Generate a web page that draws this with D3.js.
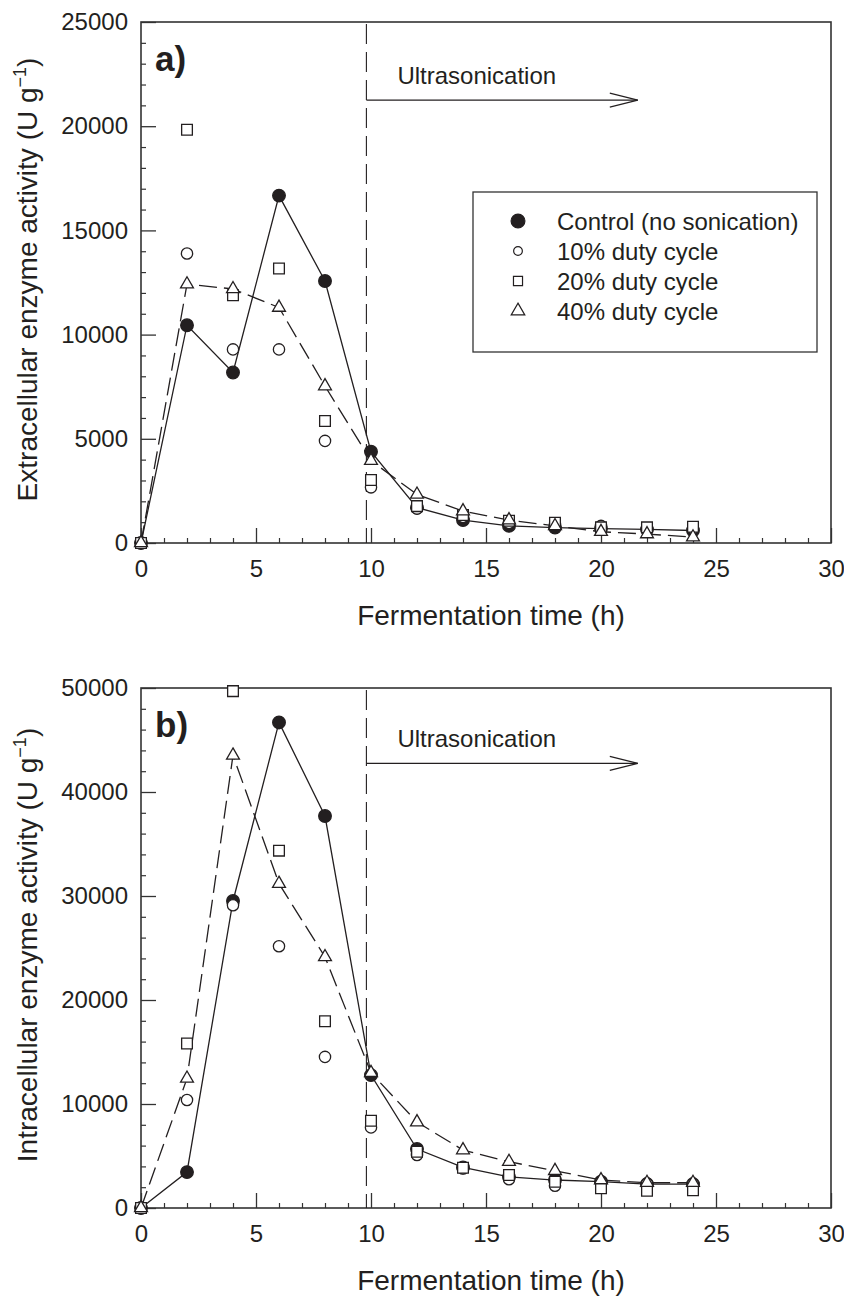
<!DOCTYPE html>
<html>
<head>
<meta charset="utf-8">
<script src="https://cdn.jsdelivr.net/npm/d3@7"></script>
<style>
  html, body { margin: 0; padding: 0; background: #fff; }
  svg { display: block; }
  text { font-family: "Liberation Sans", Arial, Helvetica, sans-serif; fill: #231f20; }
</style>
</head>
<body>
<svg id="chart" width="844" height="1297"></svg>
<script>
// Sampling times (h)
const hours = [0, 2, 4, 6, 8, 10, 12, 14, 16, 18, 20, 22, 24];

// Extracellular enzyme activity (U g-1)
const extControl = [0, 10450, 8180, 16670, 12570, 4380, 1700, 1100, 820, 740, 690, 650, 600];
const extDuty10  = [0, 13890, 9290, 9290, 4900, 2670, 1650, 1250, 960, 900, 820, 700, 700];
const extDuty20  = [0, 19830, 11890, 13170, 5850, 3020, 1770, 1340, 1070, 970, 750, 750, 780];
const extDuty40  = [0, 12420, 12190, 11300, 7530, 3950, 2330, 1530, 1100, 820, 540, 430, 280];

// Intracellular enzyme activity (U g-1)
const intControl = [0, 3450, 29520, 46690, 37690, 12780, 5670, 3900, 3000, 2690, 2530, 2300, 2300];
const intDuty10  = [0, 10380, 29110, 25170, 14530, 7750, 5090, 3800, 2760, 2140, 2500, 2350, 2300];
const intDuty20  = [0, 15820, 49700, 34360, 17960, 8390, 5410, 3870, 3170, 2530, 1890, 1660, 1700];
const intDuty40  = [0, 12460, 43520, 31190, 24140, 13000, 8260, 5570, 4450, 3580, 2690, 2430, 2430];

const seriesNames = ["Control (no sonication)", "10% duty cycle", "20% duty cycle", "40% duty cycle"];

// Axis ticks
const xTicks = [0, 5, 10, 15, 20, 25, 30];
const yTicksA = [0, 5000, 10000, 15000, 20000, 25000];
const yTicksB = [0, 10000, 20000, 30000, 40000, 50000];

// Ultrasonication annotation: start time, arrow end time, arrow level per panel
const sonicStart = 9.8;
const sonicArrowEnd = 21.6;
const sonicLevelA = 21250;
const sonicLevelB = 42750;

const svg = d3.select("#chart");
const ink = "#231f20";
const frameInk = "#333";

const styles = [
  { symbol: d3.symbolCircle,   size: 125, fill: ink,    line: "solid" },
  { symbol: d3.symbolCircle,   size: 100, fill: "#fff", line: null },
  { symbol: d3.symbolSquare,   size: 115, fill: "#fff", line: null },
  { symbol: d3.symbolTriangle, size: 72,  fill: "#fff", line: "dashed" }
];

const left = 141, right = 831;

function drawPanel(cfg) {
  const g = svg.append("g");
  const x = d3.scaleLinear().domain([0, 30]).range([left, right]);
  const y = d3.scaleLinear().domain([0, cfg.yMax]).range([cfg.bottom, cfg.top]);

  // Minor ticks
  const xMinor = d3.range(0, 31, 1).filter(v => v % 5 !== 0);
  g.append("g").attr("transform", `translate(0,${cfg.bottom})`)
    .call(d3.axisBottom(x).tickValues(xMinor).tickSizeInner(-5).tickSizeOuter(0).tickFormat(""))
    .call(s => s.select(".domain").remove())
    .call(s => s.selectAll("line").attr("stroke", frameInk).attr("stroke-width", 1.2));
  const yMinor = d3.range(0, cfg.yMax + 1, cfg.yMinorStep).filter(v => !cfg.yTicks.includes(v));
  g.append("g").attr("transform", `translate(${left},0)`)
    .call(d3.axisLeft(y).tickValues(yMinor).tickSizeInner(-5).tickSizeOuter(0).tickFormat(""))
    .call(s => s.select(".domain").remove())
    .call(s => s.selectAll("line").attr("stroke", frameInk).attr("stroke-width", 1.2));

  // Major ticks with labels
  g.append("g").attr("transform", `translate(0,${cfg.bottom})`)
    .call(d3.axisBottom(x).tickValues(xTicks).tickSizeInner(-15).tickSizeOuter(0).tickPadding(17).tickFormat(d3.format("d")))
    .call(s => s.select(".domain").remove())
    .call(s => s.selectAll("line").attr("stroke", frameInk).attr("stroke-width", 1.3))
    .call(s => s.selectAll("text").attr("font-size", 24).attr("fill", ink)
      .attr("font-family", "'Liberation Sans', Arial, sans-serif"));
  g.append("g").attr("transform", `translate(${left},0)`)
    .call(d3.axisLeft(y).tickValues(cfg.yTicks).tickSizeInner(-15).tickSizeOuter(0).tickPadding(13).tickFormat(d3.format("d")))
    .call(s => s.select(".domain").remove())
    .call(s => s.selectAll("line").attr("stroke", frameInk).attr("stroke-width", 1.3))
    .call(s => s.selectAll("text").attr("font-size", 24).attr("fill", ink)
      .attr("font-family", "'Liberation Sans', Arial, sans-serif"));

  // Frame
  g.append("rect")
    .attr("x", left).attr("y", cfg.top)
    .attr("width", right - left).attr("height", cfg.bottom - cfg.top)
    .attr("fill", "none").attr("stroke", frameInk).attr("stroke-width", 1.6);

  // Ultrasonication start marker
  g.append("line")
    .attr("x1", x(sonicStart)).attr("x2", x(sonicStart))
    .attr("y1", cfg.top + 2).attr("y2", cfg.bottom)
    .attr("stroke", ink).attr("stroke-width", 1.1).attr("stroke-dasharray", "20,8");

  const ay = y(cfg.sonicLevel);
  g.append("line")
    .attr("x1", x(sonicStart)).attr("x2", x(sonicArrowEnd))
    .attr("y1", ay).attr("y2", ay)
    .attr("stroke", ink).attr("stroke-width", 1.1);
  const tipX = x(sonicArrowEnd);
  g.append("path")
    .attr("d", `M${tipX - 28},${ay - 7}L${tipX},${ay}L${tipX - 28},${ay + 7}`)
    .attr("fill", "none").attr("stroke", ink).attr("stroke-width", 1.1);
  g.append("text")
    .attr("x", x(sonicStart) + 31).attr("y", ay - 16)
    .attr("font-size", 24).text("Ultrasonication");

  // Panel letter
  g.append("text")
    .attr("x", 155).attr("y", cfg.top + 49)
    .attr("font-size", 35).attr("font-weight", "bold").text(cfg.letter);

  // Lines
  const lineGen = d3.line().x((d, i) => x(hours[i])).y(d => y(d));
  cfg.series.forEach((vals, k) => {
    const st = styles[k];
    if (!st.line) return;
    g.append("path")
      .attr("d", lineGen(vals))
      .attr("fill", "none").attr("stroke", ink).attr("stroke-width", 1.3)
      .attr("stroke-dasharray", st.line === "dashed" ? "18,7" : null);
  });

  // Markers
  cfg.series.forEach((vals, k) => {
    const st = styles[k];
    const sym = d3.symbol().type(st.symbol).size(st.size);
    g.append("g").selectAll("path").data(vals).join("path")
      .attr("transform", (d, i) => `translate(${x(hours[i])},${y(d)})`)
      .attr("d", sym)
      .attr("fill", st.fill).attr("stroke", ink).attr("stroke-width", 1.3);
  });

  // Axis titles
  g.append("text")
    .attr("x", (left + right) / 2 + 5).attr("y", cfg.bottom + 82)
    .attr("text-anchor", "middle").attr("font-size", 28)
    .text("Fermentation time (h)");

  const yt = g.append("text")
    .attr("transform", `translate(37,${(cfg.top + cfg.bottom) / 2 - 3}) rotate(-90)`)
    .attr("text-anchor", "middle").attr("font-size", 28);
  yt.append("tspan").text(cfg.yTitle + " (U g");
  yt.append("tspan").attr("font-size", 18).attr("dy", -11).text("\u22121");
  yt.append("tspan").attr("dy", 11).text(")");

  return { x, y };
}

drawPanel({
  top: 22, bottom: 543, yMax: 25000, yTicks: yTicksA, yMinorStep: 1000,
  letter: "a)", sonicLevel: sonicLevelA,
  yTitle: "Extracellular enzyme activity",
  series: [extControl, extDuty10, extDuty20, extDuty40]
});

drawPanel({
  top: 688, bottom: 1208, yMax: 50000, yTicks: yTicksB, yMinorStep: 2000,
  letter: "b)", sonicLevel: sonicLevelB,
  yTitle: "Intracellular enzyme activity",
  series: [intControl, intDuty10, intDuty20, intDuty40]
});

// Legend (panel a)
const legendSizes = [150, 60, 82, 80];
const leg = svg.append("g");
leg.append("rect")
  .attr("x", 473).attr("y", 192).attr("width", 344).attr("height", 160)
  .attr("fill", "#fff").attr("stroke", frameInk).attr("stroke-width", 1.3);
seriesNames.forEach((name, k) => {
  const cy = 221 + k * 30;
  const st = styles[k];
  leg.append("path")
    .attr("transform", `translate(518,${cy})`)
    .attr("d", d3.symbol().type(st.symbol).size(legendSizes[k]))
    .attr("fill", st.fill).attr("stroke", ink).attr("stroke-width", 1.2);
  leg.append("text")
    .attr("x", 557).attr("y", cy + 8.5)
    .attr("font-size", 24).text(name);
});
</script>
</body>
</html>
